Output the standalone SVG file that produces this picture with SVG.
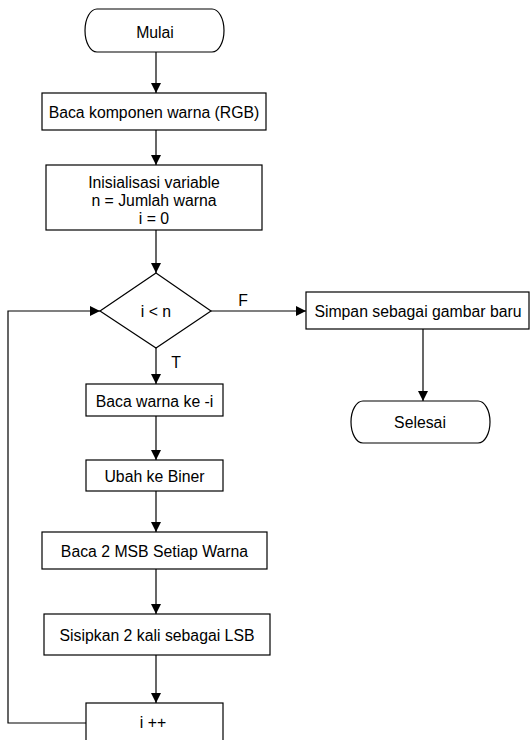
<svg xmlns="http://www.w3.org/2000/svg" width="530" height="740" viewBox="0 0 530 740">
<style>
.s{fill:#fff;stroke:#000;stroke-width:1.2}
.c{fill:none;stroke:#000;stroke-width:1.2}
text{font-family:"Liberation Sans",Arial,sans-serif;font-size:15.8px;fill:#000;text-anchor:middle;dominant-baseline:central}
</style>
<defs>
<marker id="a" viewBox="0 0 10 10" refX="10" refY="5" markerWidth="10" markerHeight="10" markerUnits="userSpaceOnUse" orient="auto">
<path d="M0,0 L10,5 L0,10 Z" fill="#000"/>
</marker>
</defs>
<g id="connectors">
<path class="c" d="M156,52 V93" marker-end="url(#a)"/>
<path class="c" d="M156,130 V165" marker-end="url(#a)"/>
<path class="c" d="M156,230 V273" marker-end="url(#a)"/>
<path class="c" d="M156,348 V384" marker-end="url(#a)"/>
<path class="c" d="M156,416 V460" marker-end="url(#a)"/>
<path class="c" d="M156,491 V532" marker-end="url(#a)"/>
<path class="c" d="M156,569 V614" marker-end="url(#a)"/>
<path class="c" d="M156,655 V703" marker-end="url(#a)"/>
<path class="c" d="M86,723 H8 V311 H100" marker-end="url(#a)"/>
<path class="c" d="M211,311 H306" marker-end="url(#a)"/>
<path class="c" d="M423,329 V401" marker-end="url(#a)"/>
<text x="243" y="300">F</text>
<text x="176" y="362">T</text>
</g>
<g id="mulai">
<path class="s" d="M97,9 H212 A12,21.5 0 0 1 212,52 H97 A12,21.5 0 0 1 97,9 Z"/>
<text x="155" y="32">Mulai</text>
</g>
<g id="baca-komponen">
<rect class="s" x="42" y="93" width="224" height="37"/>
<text x="154" y="112">Baca komponen warna (RGB)</text>
</g>
<g id="inisialisasi">
<rect class="s" x="46" y="165" width="216" height="65"/>
<text x="154" y="182">Inisialisasi variable</text>
<text x="154" y="200">n = Jumlah warna</text>
<text x="154" y="218">i = 0</text>
</g>
<g id="kondisi">
<path class="s" d="M156,273 L211,311 L156,348 L100,311 Z"/>
<text x="156" y="311">i &lt; n</text>
</g>
<g id="baca-warna">
<rect class="s" x="86" y="384" width="137" height="32"/>
<text x="154.5" y="401">Baca warna ke -i</text>
</g>
<g id="ubah-biner">
<rect class="s" x="86" y="460" width="137" height="31"/>
<text x="154.5" y="476.5">Ubah ke Biner</text>
</g>
<g id="baca-msb">
<rect class="s" x="42" y="532" width="225" height="37"/>
<text x="154.5" y="551.5">Baca 2 MSB Setiap Warna</text>
</g>
<g id="sisipkan">
<rect class="s" x="44" y="614" width="226" height="41"/>
<text x="157" y="635">Sisipkan 2 kali sebagai LSB</text>
</g>
<g id="increment">
<rect class="s" x="86" y="703" width="137" height="40"/>
<text x="153" y="722">i ++</text>
</g>
<g id="simpan">
<rect class="s" x="306" y="292" width="223" height="37"/>
<text x="418" y="311.5">Simpan sebagai gambar baru</text>
</g>
<g id="selesai">
<path class="s" d="M363,401 H478 A12,21 0 0 1 478,443 H363 A12,21 0 0 1 363,401 Z"/>
<text x="420" y="422">Selesai</text>
</g>
</svg>
